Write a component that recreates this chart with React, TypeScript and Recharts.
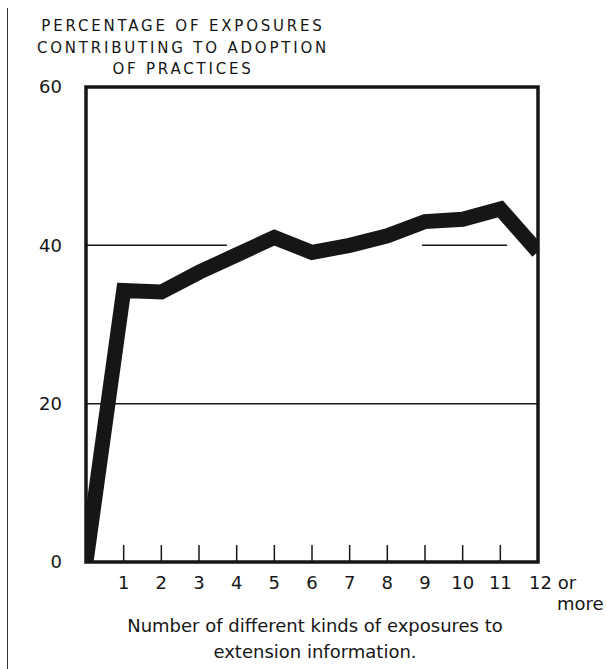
import React from 'react';
import { LineChart, Line, XAxis, YAxis, ReferenceLine, ReferenceArea } from 'recharts';

// number of different kinds of exposures (0 .. "12 or more")
const exposures = [0, 1, 2, 3, 4, 5, 6, 7, 8, 9, 10, 11, 12];
// percentage of exposures contributing to adoption of practices
const percentages = [0, 34.3, 34.1, 36.6, 38.8, 41.0, 39.1, 40.0, 41.2, 43.0, 43.3, 44.6, 39.2];
const xTicks = [1, 2, 3, 4, 5, 6, 7, 8, 9, 10, 11, 12];
const yTicks = [0, 20, 40, 60];

const titleLines = ['PERCENTAGE OF EXPOSURES', 'CONTRIBUTING TO ADOPTION', 'OF PRACTICES'];
const axisTitleLines = ['Number of different kinds of exposures to', 'extension information.'];

const data = exposures.map((x, i) => ({ x, pct: percentages[i] }));

const ink = '#161616';
const font = '"DejaVu Sans", sans-serif';

const XTick = (props: any) => {
  const { x, y, payload } = props;
  const v = payload.value;
  if (v === 12) {
    return (
      <g>
        <text x={x - 9} y={y + 27} fontSize={18} fill={ink} fontFamily={font}>12 or</text>
        <text x={x + 19} y={y + 48} fontSize={18} fill={ink} fontFamily={font}>more</text>
      </g>
    );
  }
  return (
    <g>
      <line x1={x} y1={y} x2={x} y2={y - 17} stroke={ink} strokeWidth={1.5} />
      <text x={x} y={y + 27} fontSize={18} fill={ink} textAnchor="middle" fontFamily={font}>
        {v}
      </text>
    </g>
  );
};

const App = () => {
  return (
    <div style={{ position: 'absolute', left: 0, top: 0, width: 607, height: 669, background: '#fff' }}>
      <div style={{ position: 'absolute', left: 7, top: 8, width: 0, height: 661, borderLeft: '1.5px solid #333' }} />
      <div
        style={{
          position: 'absolute',
          left: 13,
          top: 16,
          width: 340,
          textAlign: 'center',
          fontFamily: font,
          fontSize: 15,
          letterSpacing: 2.8,
          lineHeight: '21.5px',
          color: ink,
        }}
      >
        {titleLines.map((t) => (
          <div key={t}>{t}</div>
        ))}
      </div>
      <LineChart width={607} height={669} data={data} margin={{ top: 87, right: 69, bottom: 67, left: 26 }}>
        <XAxis
          dataKey="x"
          type="number"
          domain={[0, 12]}
          ticks={xTicks}
          axisLine={false}
          tickLine={false}
          tickSize={0}
          tickMargin={0}
          height={40}
          tick={<XTick />}
          allowDataOverflow
        />
        <YAxis
          type="number"
          domain={[0, 60]}
          ticks={yTicks}
          axisLine={false}
          tickLine={false}
          tickSize={0}
          tickMargin={24}
          width={60}
          tick={{ fontSize: 18, fill: ink, fontFamily: font }}
          allowDataOverflow
        />
        <ReferenceLine y={20} stroke={ink} strokeWidth={1.5} />
        <ReferenceLine segment={[{ x: 0, y: 40 }, { x: 3.74, y: 40 }]} stroke={ink} strokeWidth={1.5} />
        <ReferenceLine segment={[{ x: 8.92, y: 40 }, { x: 11.18, y: 40 }]} stroke={ink} strokeWidth={1.5} />
        <Line
          type="linear"
          dataKey="pct"
          stroke={ink}
          strokeWidth={15}
          strokeLinejoin="miter"
          dot={false}
          isAnimationActive={false}
        />
        <ReferenceArea x1={0} x2={12} y1={0} y2={60} fill="none" stroke={ink} strokeWidth={3.5} />
      </LineChart>
      <div
        style={{
          position: 'absolute',
          left: 95,
          top: 613,
          width: 440,
          textAlign: 'center',
          fontFamily: font,
          fontSize: 18,
          lineHeight: '26px',
          color: ink,
        }}
      >
        {axisTitleLines.map((t) => (
          <div key={t}>{t}</div>
        ))}
      </div>
    </div>
  );
};

export default App;
